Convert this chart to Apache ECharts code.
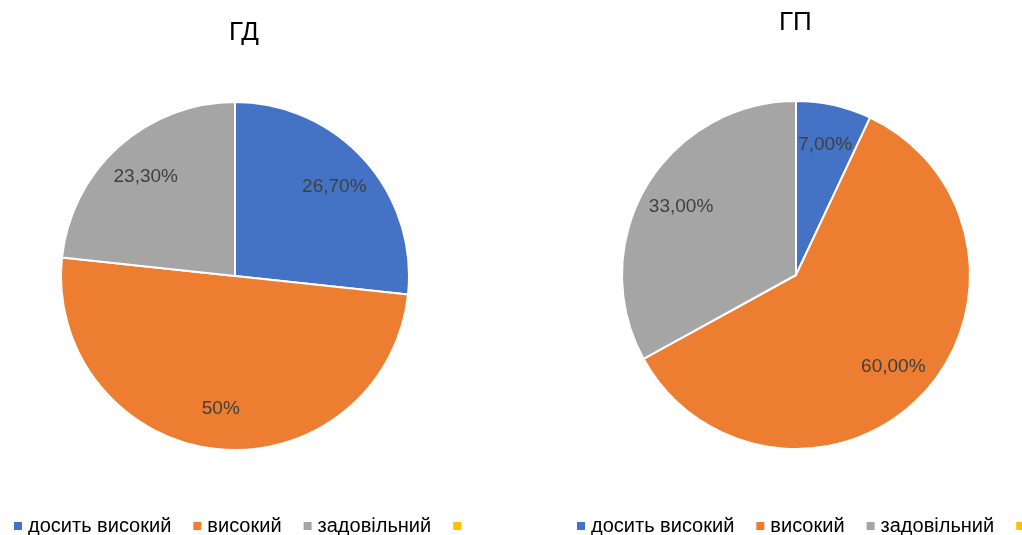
<!DOCTYPE html>
<html>
<head>
<meta charset="utf-8">
<script src="https://cdn.jsdelivr.net/npm/echarts@6/dist/echarts.min.js"></script>
<style>
html,body{margin:0;padding:0;background:#fff;}
#c{width:1022px;height:535px;}
</style>
</head>
<body>
<div id="c"></div>
<script>
const categories = ['досить високий', 'високий', 'задовільний', ' '];
const colors = ['#4472C4', '#ED7D31', '#A5A5A5', '#FFC000'];
const titles = ['ГД', 'ГП'];
const valuesGD = [26.7, 50, 23.3, 0];
const labelsGD = ['26,70%', '50%', '23,30%', ''];
const valuesGP = [7, 60, 33, 0];
const labelsGP = ['7,00%', '60,00%', '33,00%', ''];

const FONT = 'Liberation Sans, Arial, sans-serif';
const R = 174;
const centers = [[235, 276], [796, 275]];

function mainPie(values, center) {
  return {
    type: 'pie',
    center: center,
    radius: [0, R],
    startAngle: 90,
    clockwise: true,
    avoidLabelOverlap: false,
    label: {show: false},
    labelLine: {show: false},
    emphasis: {disabled: true},
    itemStyle: {borderColor: '#fff', borderWidth: 2},
    data: categories.map((n, i) => ({name: n, value: values[i], itemStyle: {color: colors[i]}}))
  };
}
function labelPie(values, labels, center) {
  return {
    type: 'pie',
    center: center,
    radius: [R / 2, R],
    startAngle: 90,
    clockwise: true,
    silent: true,
    legendHoverLink: false,
    avoidLabelOverlap: false,
    emphasis: {disabled: true},
    itemStyle: {color: 'rgba(0,0,0,0)', borderWidth: 0},
    label: {
      show: true, position: 'inside',
      formatter: p => labels[p.dataIndex],
      color: '#404040', fontSize: 19, fontFamily: FONT
    },
    labelLine: {show: false},
    data: categories.map((n, i) => ({name: n, value: values[i]}))
  };
}

const legendCommon = {
  orient: 'horizontal',
  top: 516,
  padding: 0,
  icon: 'rect',
  itemWidth: 10,
  itemHeight: 10,
  itemGap: 20,
  selectedMode: false,
  textStyle: {fontSize: 20, color: '#000', fontFamily: FONT},
  data: categories
};

const chart = echarts.init(document.getElementById('c'), null, {renderer: 'canvas'});
chart.setOption({
  animation: false,
  color: colors,
  title: [
    {text: titles[0], left: 229, top: 20, padding: 0, textStyle: {fontSize: 26, fontWeight: 'normal', color: '#000', fontFamily: FONT}},
    {text: titles[1], left: 779, top: 10, padding: 0, textStyle: {fontSize: 26, fontWeight: 'normal', color: '#000', fontFamily: FONT}}
  ],
  legend: [
    Object.assign({}, legendCommon, {left: 12, width: 520}),
    Object.assign({}, legendCommon, {left: 575, width: 520})
  ],
  series: [
    mainPie(valuesGD, centers[0]),
    mainPie(valuesGP, centers[1]),
    labelPie(valuesGD, labelsGD, centers[0]),
    labelPie(valuesGP, labelsGP, centers[1])
  ]
});
</script>
</body>
</html>
